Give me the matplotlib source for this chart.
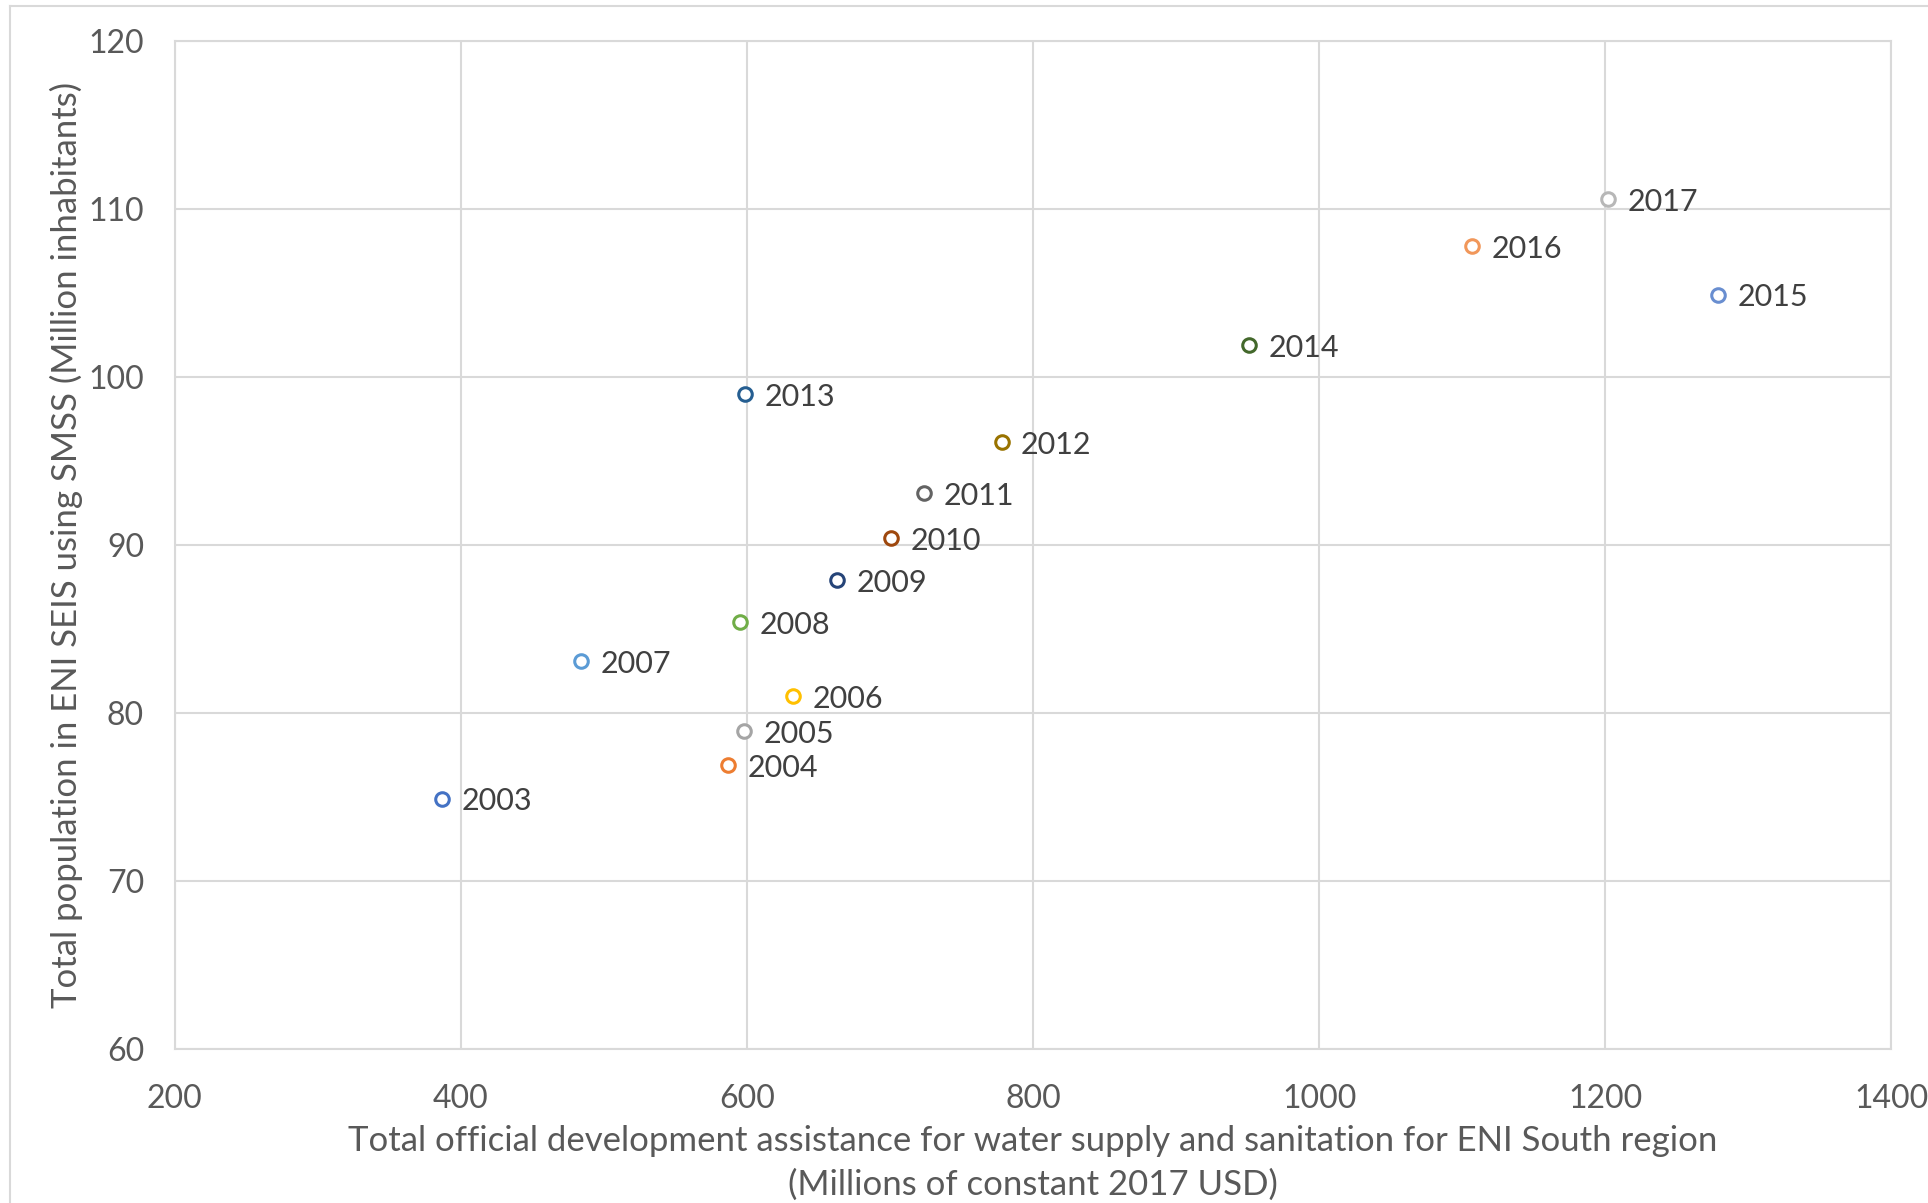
import matplotlib.pyplot as plt
from matplotlib.lines import Line2D

plt.rcParams['font.family'] = ['Lato', 'DejaVu Sans']

# data
years = ['2003', '2004', '2005', '2006', '2007', '2008', '2009', '2010',
         '2011', '2012', '2013', '2014', '2015', '2016', '2017']
oda = [387, 587, 598, 632, 484, 595, 663, 701, 724, 778, 599, 951, 1279, 1107, 1202]
pop = [74.9, 76.9, 78.9, 81.0, 83.1, 85.4, 87.9, 90.4, 93.1, 96.1, 99.0, 101.9, 104.9, 107.8, 110.6]
colors = ['#4472C4', '#ED7D31', '#A5A5A5', '#FFC000', '#5B9BD5', '#70AD47',
          '#264478', '#9E480E', '#636363', '#997300', '#255E91', '#43682B',
          '#698ED0', '#F1975A', '#B7B7B7']

xticks = [200, 400, 600, 800, 1000, 1200, 1400]
yticks = [60, 70, 80, 90, 100, 110, 120]

fig = plt.figure(figsize=(19.28, 12.03), dpi=100)
ax = fig.add_axes([0.0906, 0.128, 0.8904, 0.838])

grid_c = '#D9D9D9'
for x, y, c, yr in zip(oda, pop, colors, years):
    ax.scatter(x, y, s=95, facecolors='white', edgecolors=c, linewidths=2.2, zorder=3)
    ax.annotate(yr, (x, y), xytext=(14, -2), textcoords='offset points',
                ha='left', va='center', fontsize=22, color='#404040', zorder=4)

ax.set_xlim(200, 1400)
ax.set_ylim(60, 120)
ax.set_xticks(xticks)
ax.set_yticks(yticks)
ax.grid(True, color=grid_c, linewidth=1.5)
ax.set_axisbelow(True)
for s in ax.spines.values():
    s.set_color(grid_c)
    s.set_linewidth(1.5)
ax.tick_params(length=0, labelsize=23, labelcolor='#595959')
ax.tick_params(axis='x', pad=25)
ax.tick_params(axis='y', pad=22)

ax.set_xlabel('Total official development assistance for water supply and sanitation for ENI South region\n'
              '(Millions of constant 2017 USD)', fontsize=25, color='#595959', linespacing=1.45, labelpad=8)
ax.set_ylabel('Total population in ENI SEIS using SMSS (Million inhabitants)', fontsize=25,
              color='#595959', labelpad=4)

# outer chart border
fig.add_artist(Line2D([0.005, 0.005], [0, 0.995], color=grid_c, linewidth=1.5))
fig.add_artist(Line2D([0.005, 1], [0.995, 0.995], color=grid_c, linewidth=1.5))

fig.savefig('out.png', dpi=100)
